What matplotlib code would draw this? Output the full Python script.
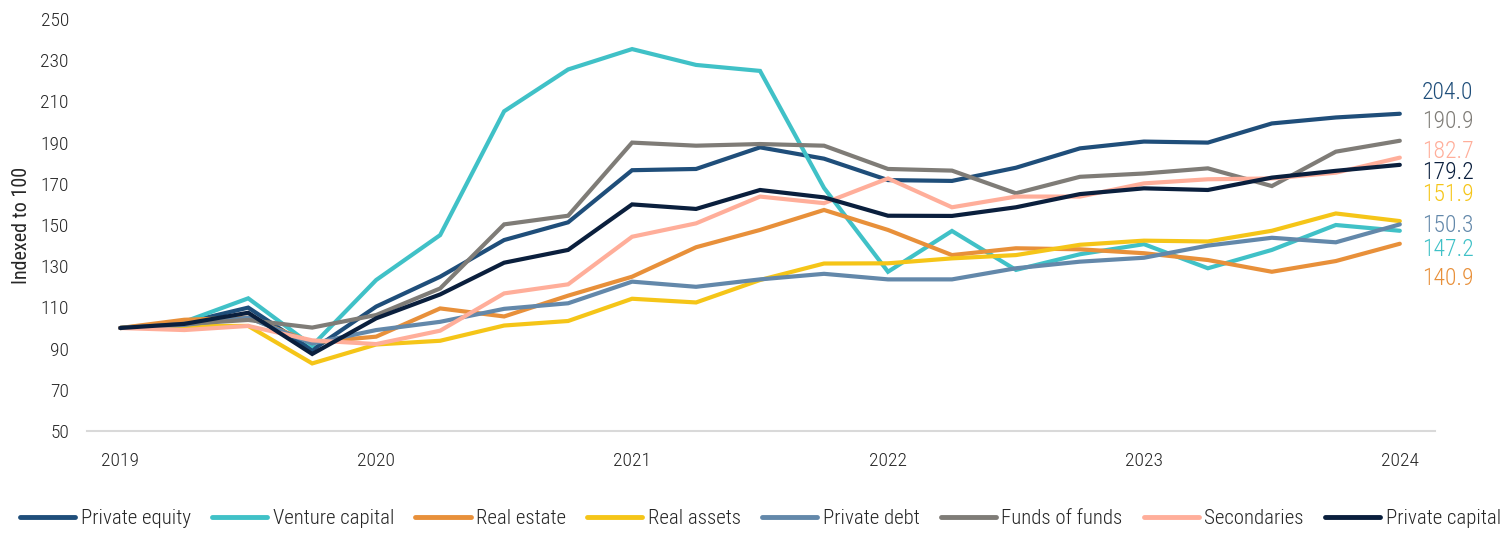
import matplotlib
matplotlib.use("Agg")
import matplotlib.pyplot as plt
from matplotlib import font_manager

# ---- data ----
quarters = list(range(21))  # 2019Q1 .. 2024Q1
year_ticks = [0, 4, 8, 12, 16, 20]
year_labels = ["2019", "2020", "2021", "2022", "2023", "2024"]

private_equity = [100, 102.5, 109.9, 89.3, 110.4, 124.9, 142.7, 151.3, 176.6, 177.2, 187.7,
                  182.2, 171.8, 171.4, 177.8, 187.2, 190.5, 190.0, 199.3, 202.2, 204.0]
venture_capital = [100, 103, 114.4, 91.4, 123.3, 145.1, 205.2, 225.5, 235.4, 227.7, 224.8,
                   168.0, 127.3, 147.1, 128.2, 135.8, 140.7, 129.0, 137.9, 150.0, 147.2]
real_estate = [100, 104, 105, 93.0, 95.8, 109.5, 105.6, 115.7, 124.9, 139.2, 147.6,
               157.3, 147.6, 135.4, 138.7, 138.2, 136.3, 133.0, 127.3, 132.5, 140.9]
real_assets = [100, 101, 101, 82.8, 92.0, 93.8, 101.2, 103.4, 114.2, 112.4, 123.3,
               131.3, 131.4, 133.8, 135.4, 140.4, 142.4, 142.0, 147.2, 155.6, 151.9]
private_debt = [100, 101.5, 105, 92.5, 99.0, 103.0, 109.3, 112.0, 122.5, 120.0, 123.6,
                126.3, 123.6, 123.6, 129.0, 132.2, 134.1, 140.0, 143.8, 141.6, 150.3]
funds_of_funds = [100, 102, 103.9, 100.2, 106.3, 119.2, 150.3, 154.5, 190.0, 188.5, 189.3,
                  188.5, 177.2, 176.4, 165.4, 173.4, 175.0, 177.5, 168.9, 185.6, 190.9]
secondaries = [100, 99, 101, 94.0, 92.2, 98.7, 116.8, 121.2, 144.3, 150.8, 163.8,
               160.6, 172.6, 158.6, 163.8, 163.8, 170.2, 172.2, 172.6, 175.4, 182.7]
private_capital = [100, 102, 107.4, 87.4, 104.7, 116.3, 131.7, 137.9, 160.0, 157.8, 167.0,
                   163.4, 154.5, 154.4, 158.6, 165.0, 167.8, 167.0, 173.0, 176.3, 179.2]

series_names = ["Private equity", "Venture capital", "Real estate", "Real assets",
                "Private debt", "Funds of funds", "Secondaries", "Private capital"]
series_values = [private_equity, venture_capital, real_estate, real_assets,
                 private_debt, funds_of_funds, secondaries, private_capital]
colors = ["#1F4E7A", "#40C1C7", "#E8903A", "#F5C518",
          "#6388AA", "#7F7C77", "#FFAE9A", "#0A1F3D"]

# positions (in data units) of the end-value labels, stacked to avoid overlap
end_label_y = [214.1, 200.0, 185.9, 175.7, 165.0, 150.0, 138.3, 123.8]
end_label_order = ["Private equity", "Funds of funds", "Secondaries", "Private capital",
                   "Real assets", "Private debt", "Venture capital", "Real estate"]

# ---- font ----
available = {f.name for f in font_manager.fontManager.ttflist}
fam = []
for cand in ["Liberation Sans Narrow", "DejaVu Sans Condensed", "Roboto Condensed",
             "Open Sans Condensed", "Roboto", "DejaVu Sans"]:
    if cand in available:
        fam.append(cand)
plt.rcParams["font.family"] = fam + ["DejaVu Sans"]
plt.rcParams["font.weight"] = "light"

FS = 14
TXT = "#262626"

fig = plt.figure(figsize=(15.12, 5.33), dpi=100)
ax = fig.add_axes([87 / 1512, 1 - 431 / 533, (1435 - 87) / 1512, (431 - 19) / 533])

for name, vals, c in zip(series_names, series_values, colors):
    ax.plot(quarters, vals, color=c, lw=3.0, label=name, solid_joinstyle="miter",
            solid_capstyle="round")

ax.set_xlim(-0.52, 20.55)
ax.set_ylim(50, 250)
ax.set_yticks(range(50, 251, 20))
ax.set_xticks(year_ticks)
ax.set_xticklabels(year_labels)
ax.tick_params(axis="both", length=0, labelsize=FS, colors=TXT)
ax.tick_params(axis="y", pad=13)
ax.tick_params(axis="x", pad=15)
for s in ["top", "right", "left"]:
    ax.spines[s].set_visible(False)
ax.spines["bottom"].set_color("#D9D9D9")
ax.spines["bottom"].set_linewidth(1.5)
ax.set_ylabel("Indexed to 100", fontsize=FS + 0.5, color=TXT, labelpad=7)

# end labels
lookup = dict(zip(series_names, zip(series_values, colors)))
for name, ly in zip(end_label_order, end_label_y):
    vals, c = lookup[name]
    ax.text(20.35, ly, f"{vals[-1]:.1f}", color=c, fontsize=17,
            ha="left", va="center")

leg = fig.legend(loc="center", bbox_to_anchor=(0.503, 1 - 519 / 533), ncol=8,
                 frameon=False, fontsize=15, handlelength=2.65, handletextpad=0.25,
                 columnspacing=1.03, borderaxespad=0)
for h in leg.legend_handles:
    h.set_linewidth(3.5)
for t in leg.get_texts():
    t.set_color(TXT)

fig.savefig("out.png", dpi=100)
